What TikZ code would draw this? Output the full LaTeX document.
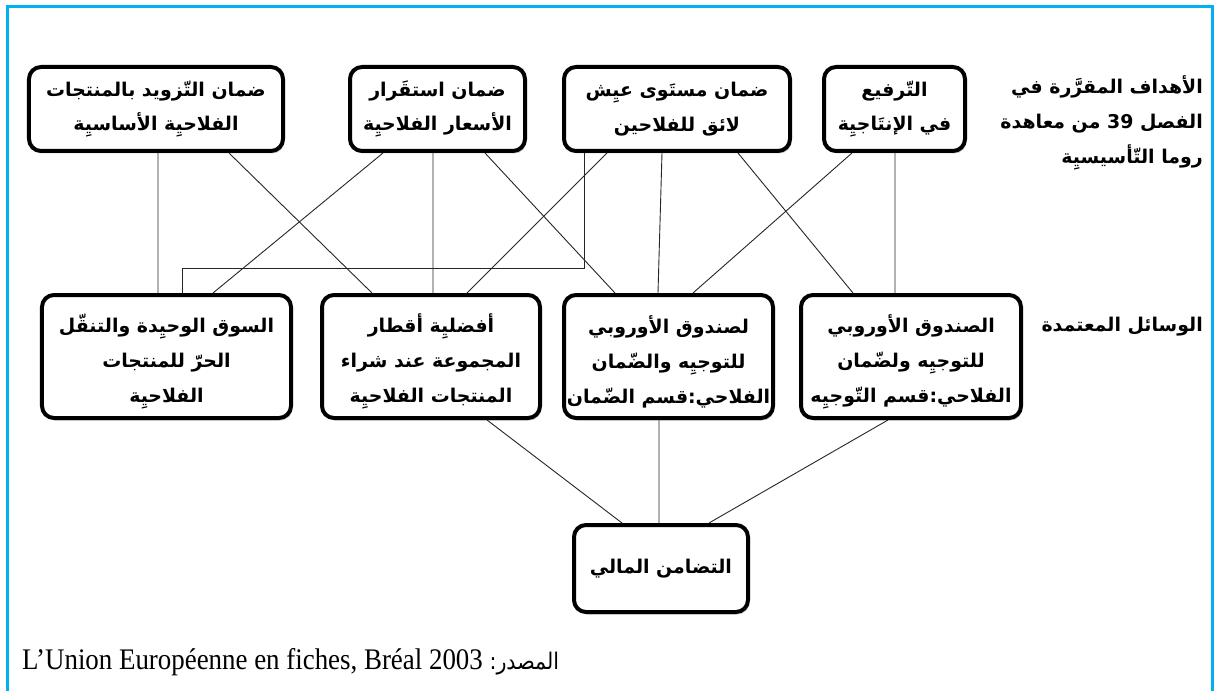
\documentclass[tikz,border=0pt]{standalone}
\usepackage{fontspec}
\usepackage{graphicx}
\usetikzlibrary{shadows}
\TeXXeTstate=1
\newfontfamily\arb[Script=Arabic]{DejaVu Sans}
\newfontfamily\srcserif{Liberation Serif}
\newcommand\rtl[1]{\beginR #1\endR}
\newcommand\toppad{\rule{0pt}{28bp}}
\definecolor{frameblue}{HTML}{00B0F0}
\begin{document}
\begin{tikzpicture}[x=1bp,y=-1bp,
  box/.style={draw=black, line width=4bp, rounded corners=12bp, fill=white,
    inner sep=0pt, align=center,
    font=\arb\bfseries\fontsize{19}{35}\selectfont,
    drop shadow={shadow xshift=1.5bp, shadow yshift=-2.5bp, opacity=0.35}},
  link/.style={line width=0.9bp, draw=black!85},
  lbl/.style={align=right, anchor=east, inner sep=0pt,
    font=\arb\bfseries\fontsize{19}{35}\selectfont}]
\useasboundingbox (0,0) rectangle (1215,691);
\fill[white] (0,0) rectangle (1215,691);
\draw[frameblue, line width=3bp] (7,691) -- (7,7) -- (1212,7) -- (1212,691);

% top row: goals
\node[box, minimum width=254bp, minimum height=84bp] (A) at (156,109)
  {\rtl{ضمان التّزويد بالمنتجات}\\\rtl{الفلاحيِة الأساسيِة}};
\node[box, minimum width=175bp, minimum height=84bp] (B) at (437.5,109)
  {\rtl{ضمان استقَرار}\\\rtl{الأسعار الفلاحيِة}};
\node[box, minimum width=226bp, minimum height=84bp] (C) at (677,109)
  {\rtl{ضمان مستَوى عيِش}\\\rtl{لائق للفلاحين}};
\node[box, minimum width=141bp, minimum height=84bp] (D) at (894.5,109)
  {\rtl{التّرفيع}\\\rtl{في الإنتَاجيِة}};

% middle row: means
\node[box, minimum width=249bp, minimum height=123bp] (E) at (166.5,356.5)
  {\toppad\rtl{السوق الوحيِدة والتنقّل}\\\rtl{الحرّ للمنتجات}\\\rtl{الفلاحيِة}};
\node[box, minimum width=218bp, minimum height=123bp] (F) at (431,356.5)
  {\toppad\rtl{أفضليِة أقطار}\\\rtl{المجموعة عند شراء}\\\rtl{المنتجات الفلاحيِة}};
\node[box, minimum width=209bp, minimum height=123bp] (G) at (668.5,356.5)
  {\toppad\rtl{لصندوق الأوروبي}\\\rtl{للتوجيِه والضّمان}\\\rtl{الفلاحي:قسم الضّمان}};
\node[box, minimum width=220bp, minimum height=123bp] (H) at (911,356.5)
  {\toppad\rtl{الصندوق الأوروبي}\\\rtl{للتوجيِه ولضّمان}\\\rtl{الفلاحي:قسم التّوجيِه}};

% bottom
\node[box, minimum width=174bp, minimum height=87bp] (I) at (661,568.5)
  {\rtl{التضامن المالي}};

% side labels
\node[lbl] (goals) at (1203,123)
  {\rtl{الأهداف المقرَّرة في}\\\rtl{الفصل \beginL 39\endL{} من معاهدة}\\\rtl{روما التّأسيسيِة}};
\node[lbl] (means) at (1203,327) {\rtl{الوسائل المعتمدة}};

% connectors top -> middle
\draw[link] ([xshift=2bp]A.south) -- ([xshift=-8.5bp]E.north);
\draw[link] ([xshift=73bp]A.south) -- ([xshift=-59bp]F.north);
\draw[link] ([xshift=-54.5bp]B.south) -- ([xshift=46.5bp]E.north);
\draw[link] ([xshift=-4.5bp]B.south) -- ([xshift=2bp]F.north);
\draw[link] ([xshift=47.5bp]B.south) -- ([xshift=-53.5bp]G.north);
\draw[link] ([xshift=-93bp]C.south) -- ++(0,115) -| ([xshift=15.5bp]E.north);
\draw[link] ([xshift=-70bp]C.south) -- ([xshift=36bp]F.north);
\draw[link] ([xshift=-15bp]C.south) -- ([xshift=-10.5bp]G.north);
\draw[link] ([xshift=61bp]C.south) -- ([xshift=-58bp]H.north);
\draw[link] ([xshift=-42.5bp]D.south) -- ([xshift=24.5bp]G.north);
\draw[link] ([xshift=0.5bp]D.south) -- ([xshift=-16bp]H.north);

% connectors middle -> bottom
\draw[link] ([xshift=56bp]F.south) -- ([xshift=-39bp]I.north);
\draw[link] ([xshift=-9.5bp]G.south) -- ([xshift=-2bp]I.north);
\draw[link] ([xshift=-23bp]H.south) -- ([xshift=48bp]I.north);

% source
\node[anchor=west, inner sep=0pt] (src) at (22,662)
  {\scalebox{0.9}[1]{\srcserif\fontsize{30}{34}\selectfont L’Union Européenne en fiches, Bréal 2003 {\arb\fontsize{23}{26}\selectfont\rtl{المصدر:}}}};
\end{tikzpicture}
\end{document}
